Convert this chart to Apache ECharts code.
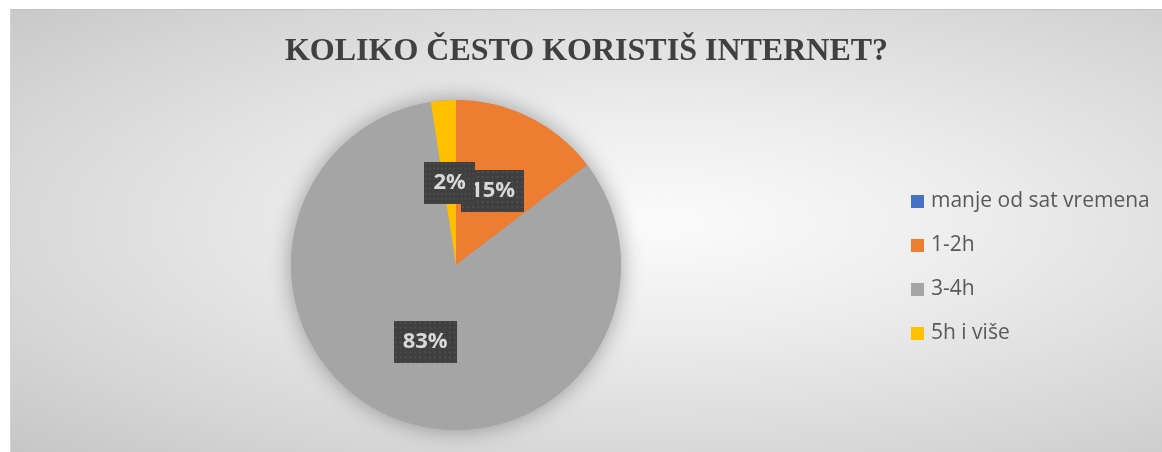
<!DOCTYPE html>
<html>
<head>
<meta charset="utf-8">
<script src="https://cdn.jsdelivr.net/npm/echarts@6/dist/echarts.min.js"></script>
<style>
  html, body { margin:0; padding:0; background:#ffffff; width:1162px; height:452px; overflow:hidden; }
  #wrap { position:absolute; left:10px; top:9px; width:1152px; height:443px;
    border-top:1px solid #c2c2c2; border-left:1px solid #d4d4d4; box-sizing:border-box;
    background: radial-gradient(ellipse at 57% 48%, #fbfbfb 0%, #ececec 35%, #d6d6d6 75%, #c6c6c6 100%); }
  #chart { width:100%; height:100%; }
</style>
</head>
<body>
<div id="wrap"><div id="chart"></div></div>
<script>
const titleText = 'KOLIKO ČESTO KORISTIŠ INTERNET?';
const categories = ['manje od sat vremena', '1-2h', '3-4h', '5h i više'];
const values = [0, 6, 34, 1];
const colors = ['#4472c4', '#ed7d31', '#a5a5a5', '#ffc000'];

const total = values.reduce((a, b) => a + b, 0);

// dotted dark label background
function makePattern(w, h) {
  const c = document.createElement('canvas');
  c.width = w; c.height = h;
  const ctx = c.getContext('2d');
  ctx.fillStyle = '#3f3f3f';
  ctx.fillRect(0, 0, w, h);
  ctx.fillStyle = '#4e4e4e';
  for (let y = 1; y < h; y += 5) {
    for (let x = 1; x < w; x += 5) {
      ctx.fillRect(x, y, 2, 2);
    }
  }
  return c;
}
const pat = makePattern(64, 42);

const chart = echarts.init(document.getElementById('chart'), null, { renderer: 'canvas' });

const pieData = categories.map((name, i) => ({
  name: name,
  value: values[i],
  itemStyle: { color: colors[i] }
}));

// label anchors: middle of each slice, half way out, in a polar system matching the pie
let acc = 0;
const labelData = [];
values.forEach((v, i) => {
  if (v > 0) {
    labelData.push({ value: [0.5, acc + v / 2], pct: Math.round(v / total * 100) });
  }
  acc += v;
});

const PIE_CENTER = [445, 255];
const PIE_R = 165;

chart.setOption({
  animation: false,
  title: {
    text: titleText,
    left: 'center',
    top: 21,
    textStyle: {
      fontFamily: '"Liberation Serif", "Times New Roman", serif',
      fontWeight: 'bold',
      fontSize: 32,
      color: '#404040'
    }
  },
  legend: {
    orient: 'vertical',
    left: 895,
    top: 176,
    data: categories,
    icon: 'rect',
    itemWidth: 13,
    itemHeight: 13,
    itemGap: 23,
    selectedMode: false,
    textStyle: {
      fontFamily: '"Open Sans", sans-serif',
      fontSize: 21,
      lineHeight: 20,
      color: '#595959',
      padding: [0, 0, 0, 2]
    }
  },
  polar: { center: PIE_CENTER, radius: PIE_R },
  angleAxis: { type: 'value', min: 0, max: total, startAngle: 90, clockwise: true, show: false },
  radiusAxis: { type: 'value', min: 0, max: 1, show: false },
  series: [
    {
      name: 'shadow',
      type: 'pie',
      center: PIE_CENTER,
      radius: PIE_R,
      silent: true,
      z: 1,
      label: { show: false },
      labelLine: { show: false },
      itemStyle: { color: '#a5a5a5', shadowBlur: 22, shadowColor: 'rgba(0,0,0,0.35)', borderWidth: 0 },
      data: [{ name: '_all', value: total }]
    },
    {
      name: 'Koliko često',
      type: 'pie',
      center: PIE_CENTER,
      radius: PIE_R,
      startAngle: 90,
      clockwise: true,
      z: 2,
      avoidLabelOverlap: false,
      itemStyle: { borderWidth: 0 },
      label: { show: false },
      labelLine: { show: false },
      data: pieData
    },
    {
      name: 'labels',
      type: 'scatter',
      coordinateSystem: 'polar',
      silent: true,
      z: 5,
      symbolSize: 1,
      itemStyle: { color: 'rgba(0,0,0,0)' },
      label: {
        show: true,
        position: 'inside',
        formatter: p => p.data.pct + '%',
        fontFamily: '"Open Sans", sans-serif',
        fontWeight: 'bold',
        fontSize: 22,
        lineHeight: 22,
        color: '#ffffff',
        backgroundColor: { image: pat },
        padding: [10, 9, 10, 9],
        shadowColor: 'rgba(0,0,0,0.55)',
        shadowBlur: 5,
        shadowOffsetX: 2,
        shadowOffsetY: 3
      },
      data: labelData
    }
  ]
});
</script>
</body>
</html>
